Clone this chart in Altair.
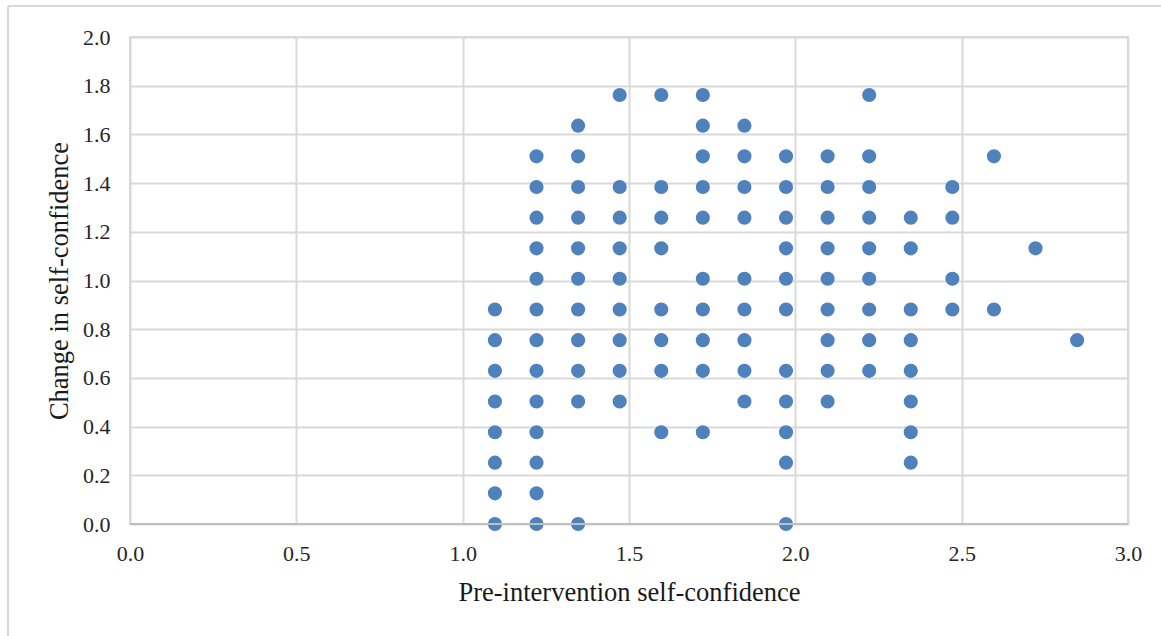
import altair as alt
import pandas as pd

# Pre-intervention scores (one column of points per score level)
pre_levels = [1.097, 1.222, 1.347, 1.472, 1.597, 1.722, 1.847, 1.972,
              2.097, 2.222, 2.347, 2.472, 2.597, 2.722, 2.847]

# Change scores observed at each pre-intervention level
change_levels = [
    [0.000, 0.126, 0.252, 0.377, 0.503, 0.629, 0.755, 0.881],
    [0.000, 0.126, 0.252, 0.377, 0.503, 0.629, 0.755, 0.881, 1.007, 1.132, 1.258, 1.384, 1.510],
    [0.000, 0.503, 0.629, 0.755, 0.881, 1.007, 1.132, 1.258, 1.384, 1.510, 1.636],
    [0.503, 0.629, 0.755, 0.881, 1.007, 1.132, 1.258, 1.384, 1.762],
    [0.377, 0.629, 0.755, 0.881, 1.132, 1.258, 1.384, 1.762],
    [0.377, 0.629, 0.755, 0.881, 1.007, 1.258, 1.384, 1.510, 1.636, 1.762],
    [0.503, 0.629, 0.755, 0.881, 1.007, 1.258, 1.384, 1.510, 1.636],
    [0.000, 0.252, 0.377, 0.503, 0.629, 0.881, 1.007, 1.132, 1.258, 1.384, 1.510],
    [0.503, 0.629, 0.755, 0.881, 1.007, 1.132, 1.258, 1.384, 1.510],
    [0.629, 0.755, 0.881, 1.007, 1.132, 1.258, 1.384, 1.510, 1.762],
    [0.252, 0.377, 0.503, 0.629, 0.755, 0.881, 1.132, 1.258],
    [0.881, 1.007, 1.258, 1.384],
    [0.881, 1.510],
    [1.132],
    [0.755],
]

x_ticks = [0.0, 0.5, 1.0, 1.5, 2.0, 2.5, 3.0]
y_ticks = [0.0, 0.2, 0.4, 0.6, 0.8, 1.0, 1.2, 1.4, 1.6, 1.8, 2.0]

rows = [{"pre": x, "change": y}
        for x, ys in zip(pre_levels, change_levels) for y in ys]
df = pd.DataFrame(rows)

W, H = 998, 487
FONT = "Liberation Serif"
GRID = "#D9D9D9"

points = alt.Chart(df).mark_circle(
    size=200, color="#4F81BD", opacity=1
).encode(
    x=alt.X("pre:Q", scale=alt.Scale(domain=[0, 3], nice=False),
            axis=alt.Axis(values=x_ticks, format=".1f",
                          title="Pre-intervention self-confidence",
                          titlePadding=15, labelPadding=19)),
    y=alt.Y("change:Q", scale=alt.Scale(domain=[0, 2], nice=False),
            axis=alt.Axis(values=y_ticks, format=".1f",
                          title="Change in self-confidence",
                          titlePadding=9, labelPadding=20)),
)

# darker baseline along the x axis
baseline = alt.Chart(pd.DataFrame({"v": [0]})).mark_rule(
    color="#BFBFBF", strokeWidth=2
).encode(y=alt.Y("v:Q"), x=alt.value(0), x2=alt.value(W))

# outer chart border (top and left edges)
frame_top = alt.Chart(pd.DataFrame({"v": [0]})).mark_rule(
    color=GRID, strokeWidth=2, clip=False
).encode(x=alt.value(-122), x2=alt.value(1040), y=alt.value(-31))
frame_left = alt.Chart(pd.DataFrame({"v": [0]})).mark_rule(
    color=GRID, strokeWidth=2, clip=False
).encode(x=alt.value(-122), y=alt.value(-31), y2=alt.value(610))

chart = alt.layer(points, baseline, frame_top, frame_left).properties(
    width=W, height=H,
    autosize=alt.AutoSizeParams(type="none"),
    padding={"left": 130, "top": 37, "right": 33, "bottom": 112},
    background="white",
).configure_view(
    stroke=GRID, strokeWidth=2
).configure_axis(
    grid=True, gridColor=GRID, gridWidth=2,
    domain=False, ticks=False, tickSize=0, labelFlush=False,
    labelFont=FONT, labelFontSize=22, labelColor="#262626",
    titleFont=FONT, titleFontSize=26.5, titleColor="#1a1a1a",
    titleFontWeight="normal",
)

chart.save("out.html", embed_options={"renderer": "svg", "actions": False})
